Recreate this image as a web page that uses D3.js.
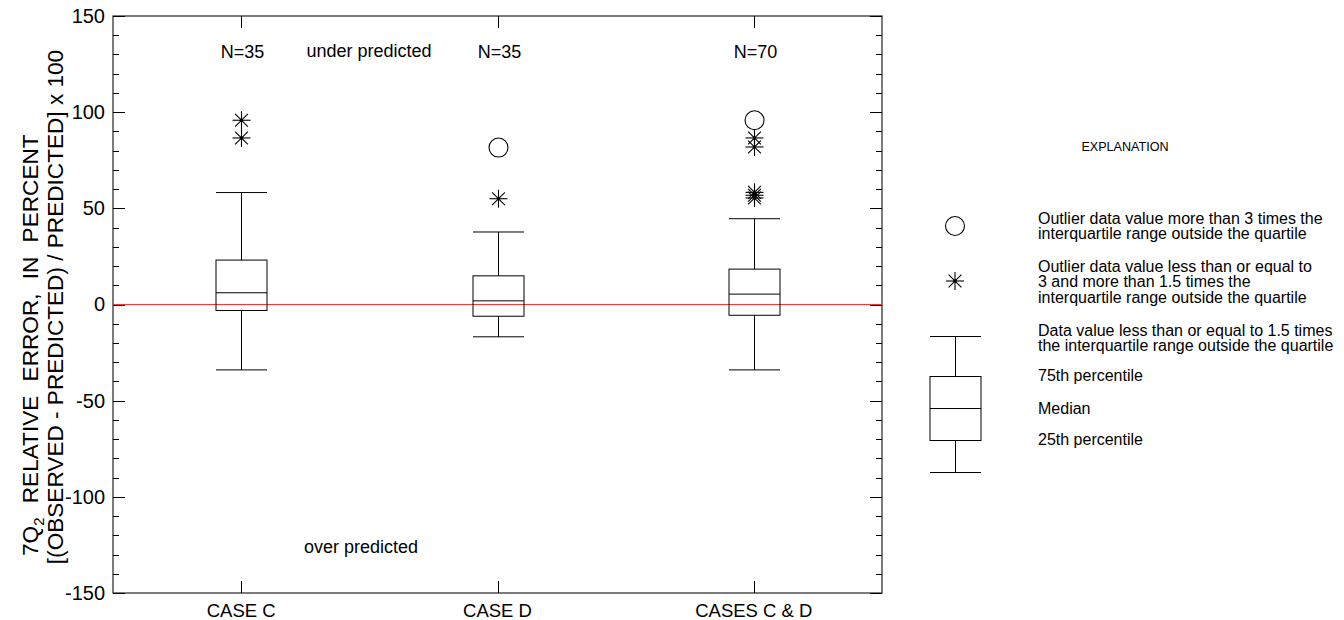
<!DOCTYPE html>
<html>
<head>
<meta charset="utf-8">
<script src="https://cdn.jsdelivr.net/npm/d3@7"></script>
<style>
  html, body { margin: 0; padding: 0; background: #fff; }
  svg { display: block; font-family: "Liberation Sans", Arial, Helvetica, sans-serif; }
</style>
</head>
<body>
<svg id="chart" width="1344" height="620"></svg>
<script>
// Relative error of 7Q2 estimates, by case
const categories   = ["CASE C", "CASE D", "CASES C & D"];
const counts       = [35, 35, 70];
const whiskerLow   = [-34.0, -16.8, -34.0];
const quartile1    = [-3.1, -6.1, -5.6];
const medians      = [6.1, 1.9, 5.4];
const quartile3    = [23.1, 14.9, 18.4];
const whiskerHigh  = [58.2, 37.7, 44.6];
// outliers between 1.5 and 3 IQR (asterisks)
const starOutliers = [[95.8, 86.6], [55.0], [86.6, 81.9, 58.3, 56.8, 55.4]];
// outliers beyond 3 IQR (open circles)
const circleOutliers = [[], [81.6], [95.8]];
const yTicks = [-150, -100, -50, 0, 50, 100, 150];

const svg = d3.select("#chart");
const L = 113, R = 882, T = 16, B = 593;

const x = d3.scaleBand().domain(categories).range([L, R]);
const y = d3.scaleLinear().domain([-150, 150]).range([B, T]);
const boxW = 51;

// frame
svg.append("rect").attr("x", L).attr("y", T).attr("width", R - L).attr("height", B - T)
  .attr("fill", "none").attr("stroke", "#444").attr("stroke-width", 1.4);

// left / right axes: major ticks every 50, minor every 10
const minor = d3.range(-150, 151, 10);
const leftAxis = d3.axisLeft(y).tickValues(yTicks).tickSize(0).tickPadding(8)
  .tickFormat(d => String(d));
const ga = svg.append("g").attr("transform", `translate(${L},0)`).call(leftAxis);
ga.select(".domain").remove();
ga.selectAll("text").attr("font-size", 20).attr("fill", "#000")
  .attr("font-family", "'Liberation Sans', Arial, sans-serif");

const tickG = svg.append("g").attr("stroke", "#000").attr("stroke-width", 1);
minor.forEach(v => {
  const len = (v % 50 === 0) ? 12 : 6;
  const yy = Math.round(y(v)) + 0.5;
  tickG.append("line").attr("x1", L).attr("x2", L + len).attr("y1", yy).attr("y2", yy);
  tickG.append("line").attr("x1", R).attr("x2", R - len).attr("y1", yy).attr("y2", yy);
});
// category ticks top and bottom
categories.forEach(c => {
  const xx = Math.round(x(c) + x.bandwidth() / 2) + 0.5;
  tickG.append("line").attr("x1", xx).attr("x2", xx).attr("y1", T).attr("y2", T + 12);
  tickG.append("line").attr("x1", xx).attr("x2", xx).attr("y1", B).attr("y2", B - 12);
});

// bottom axis labels
const bottomAxis = d3.axisBottom(x).tickSize(0).tickPadding(11);
const gb = svg.append("g").attr("transform", `translate(0,${B})`).call(bottomAxis);
gb.select(".domain").remove();
gb.selectAll("text").attr("font-size", 18.5).attr("fill", "#000")
  .attr("font-family", "'Liberation Sans', Arial, sans-serif");

// zero line
svg.append("line").attr("x1", L).attr("x2", R).attr("y1", y(0)).attr("y2", y(0))
  .attr("stroke", "#ff3333").attr("stroke-width", 1);

// marker helpers
function star(g, cx, cy) {
  const r = 9, d = 6.4;
  const s = g.append("g").attr("stroke", "#000").attr("stroke-width", 1.1);
  s.append("line").attr("x1", cx - r).attr("x2", cx + r).attr("y1", cy).attr("y2", cy);
  s.append("line").attr("x1", cx).attr("x2", cx).attr("y1", cy - r).attr("y2", cy + r);
  s.append("line").attr("x1", cx - d).attr("x2", cx + d).attr("y1", cy - d).attr("y2", cy + d);
  s.append("line").attr("x1", cx - d).attr("x2", cx + d).attr("y1", cy + d).attr("y2", cy - d);
  g.append("circle").attr("cx", cx).attr("cy", cy).attr("r", 1.8).attr("fill", "#000");
}
function ring(g, cx, cy) {
  g.append("circle").attr("cx", cx).attr("cy", cy).attr("r", 9.5)
    .attr("fill", "none").attr("stroke", "#000").attr("stroke-width", 1.1);
}
function boxplot(g, cx, yw1, yq1, ym, yq3, yw2, w) {
  const s = "#000";
  g.append("line").attr("x1", cx).attr("x2", cx).attr("y1", yw2).attr("y2", yq3).attr("stroke", s);
  g.append("line").attr("x1", cx).attr("x2", cx).attr("y1", yq1).attr("y2", yw1).attr("stroke", s);
  g.append("line").attr("x1", cx - w / 2).attr("x2", cx + w / 2).attr("y1", yw2).attr("y2", yw2).attr("stroke", s);
  g.append("line").attr("x1", cx - w / 2).attr("x2", cx + w / 2).attr("y1", yw1).attr("y2", yw1).attr("stroke", s);
  g.append("rect").attr("x", cx - w / 2).attr("y", yq3).attr("width", w).attr("height", yq1 - yq3)
    .attr("fill", "none").attr("stroke", s);
  g.append("line").attr("x1", cx - w / 2).attr("x2", cx + w / 2).attr("y1", ym).attr("y2", ym).attr("stroke", s);
}

// boxes
const boxes = svg.append("g");
categories.forEach((c, i) => {
  const cx = Math.round(x(c) + x.bandwidth() / 2) + 0.5;
  boxplot(boxes, cx, y(whiskerLow[i]), y(quartile1[i]), y(medians[i]),
          y(quartile3[i]), y(whiskerHigh[i]), boxW);
  starOutliers[i].forEach(v => star(boxes, cx, y(v)));
  circleOutliers[i].forEach(v => ring(boxes, cx, y(v)));
  svg.append("text").attr("x", cx + 1).attr("y", 58).attr("text-anchor", "middle")
    .attr("font-size", 18).text("N=" + counts[i]);
});

svg.append("text").attr("x", 369).attr("y", 57).attr("text-anchor", "middle")
  .attr("font-size", 18).text("under predicted");
svg.append("text").attr("x", 361).attr("y", 553).attr("text-anchor", "middle")
  .attr("font-size", 18).text("over predicted");

// y-axis title (first line starts at the bottom and reads upward)
const t1 = svg.append("text").attr("transform", "translate(38,556) rotate(-90)")
  .attr("text-anchor", "start").attr("font-size", 22.6);
t1.append("tspan").text("7Q");
t1.append("tspan").attr("font-size", 15).attr("dy", 6).text("2");
t1.append("tspan").attr("dy", -6).attr("word-spacing", 8).text(" RELATIVE ERROR, IN PERCENT");
svg.append("text").attr("transform", "translate(63,307) rotate(-90)")
  .attr("text-anchor", "middle").attr("font-size", 22.6)
  .text("[(OBSERVED - PREDICTED) / PREDICTED] x 100");

// explanation
const lg = svg.append("g");
lg.append("text").attr("x", 1125).attr("y", 151).attr("text-anchor", "middle")
  .attr("font-size", 12.6).text("EXPLANATION");
ring(lg, 955, 226);
star(lg, 955, 281);
boxplot(lg, 955.5, 472.5, 440.5, 408.5, 376.5, 336.5, 51);

const legendLines = [
  ["Outlier data value more than 3 times the", 224],
  ["interquartile range outside the quartile", 239],
  ["Outlier data value less than or equal to", 272],
  ["3 and more than 1.5 times the", 287],
  ["interquartile range outside the quartile", 303],
  ["Data value less than or equal to 1.5 times", 336],
  ["the interquartile range outside the quartile", 351],
  ["75th percentile", 381],
  ["Median", 414],
  ["25th percentile", 445]
];
legendLines.forEach(([t, yy]) => {
  lg.append("text").attr("x", 1038).attr("y", yy).attr("font-size", 16).text(t);
});
</script>
</body>
</html>
